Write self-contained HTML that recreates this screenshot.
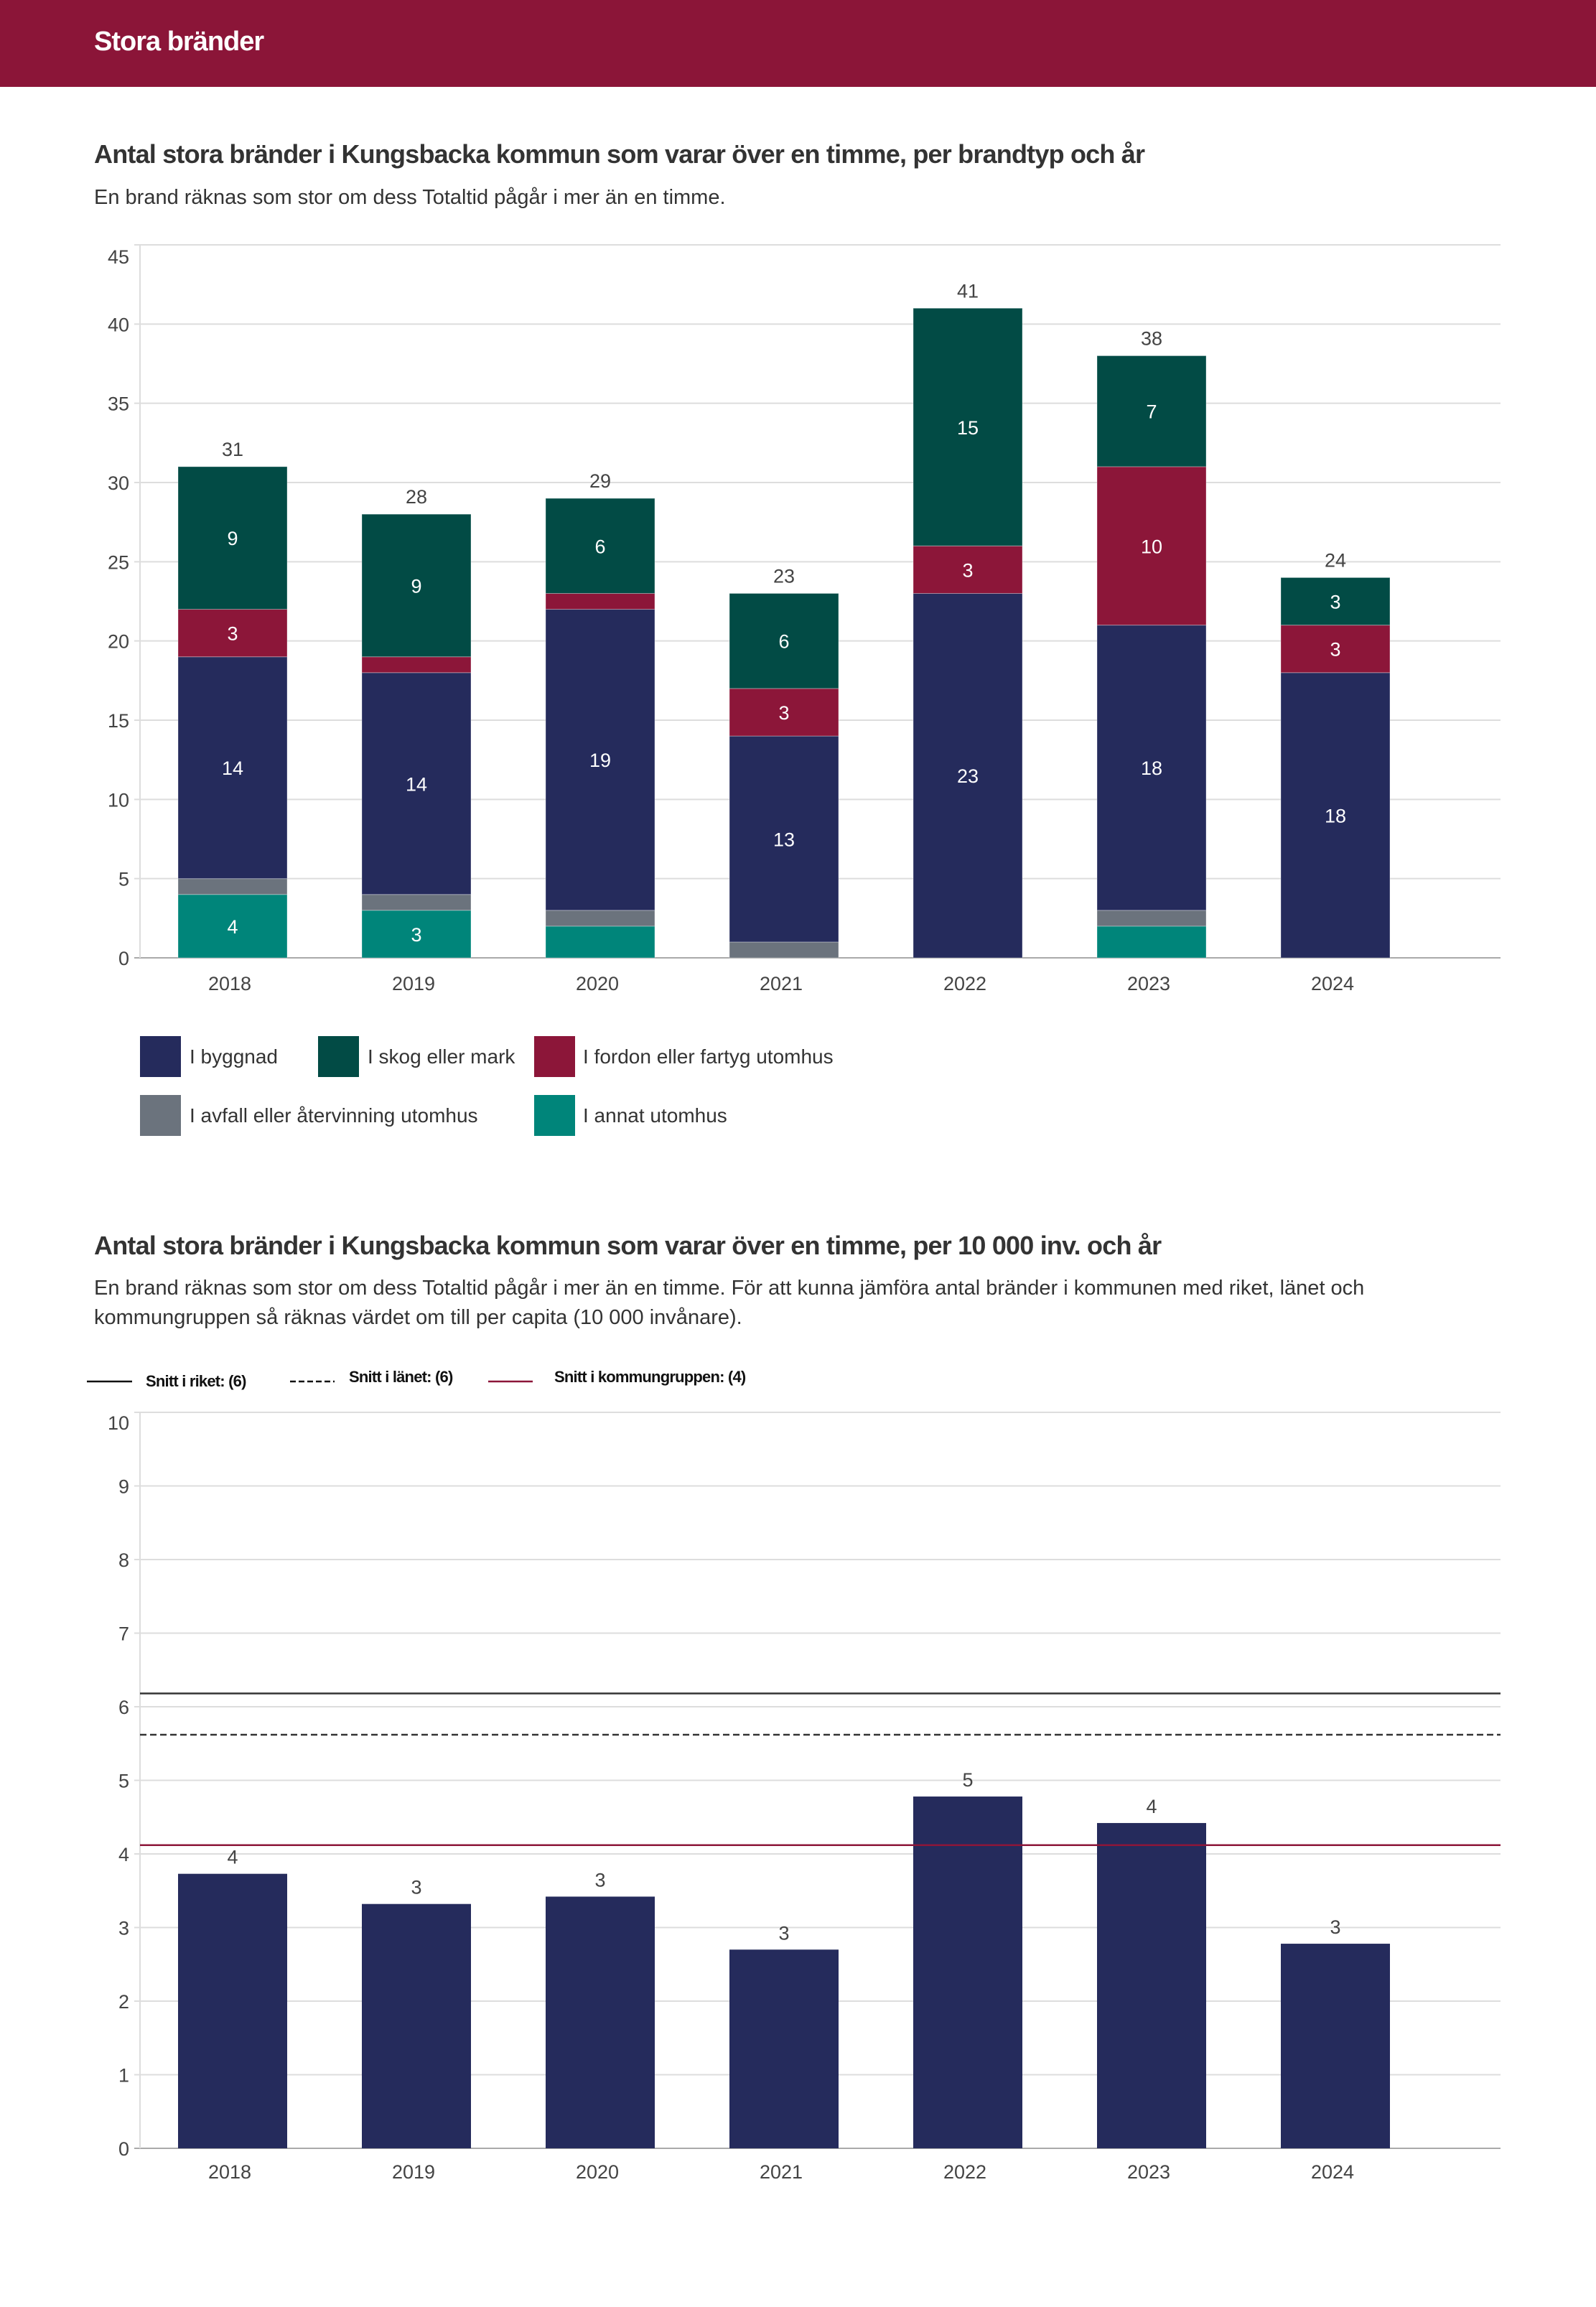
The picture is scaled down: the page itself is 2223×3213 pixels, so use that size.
<!DOCTYPE html>
<html><head><meta charset="utf-8"><style>
html,body{margin:0;padding:0;background:#fff;}
svg{display:block;font-family:"Liberation Sans",sans-serif;}
</style></head><body>
<svg id="svg" width="2223" height="3213" viewBox="0 0 2223 3213" xmlns="http://www.w3.org/2000/svg">
<rect x="0" y="0" width="2223" height="121" fill="#8b1538"/>
<text x="131" y="70" font-size="38" font-weight="bold" fill="#fff" letter-spacing="-1">Stora bränder</text>
<text x="131" y="227" font-size="36" font-weight="bold" fill="#333" letter-spacing="-0.8">Antal stora bränder i Kungsbacka kommun som varar över en timme, per brandtyp och år</text>
<text x="131" y="284" font-size="29" fill="#333">En brand räknas som stor om dess Totaltid pågår i mer än en timme.</text>
<g id="c1"></g>
<g font-size="28" fill="#333">
<rect x="195" y="1443" width="57" height="57" fill="#252b5c"/><text x="264" y="1481">I byggnad</text>
<rect x="443" y="1443" width="57" height="57" fill="#024b45"/><text x="512" y="1481">I skog eller mark</text>
<rect x="744" y="1443" width="57" height="57" fill="#8c1639"/><text x="812" y="1481">I fordon eller fartyg utomhus</text>
<rect x="195" y="1525" width="57" height="57" fill="#6b737d"/><text x="264" y="1563">I avfall eller återvinning utomhus</text>
<rect x="744" y="1525" width="57" height="57" fill="#00857a"/><text x="812" y="1563">I annat utomhus</text>
</g>
<text x="131" y="1747" font-size="36" font-weight="bold" fill="#333" letter-spacing="-0.8">Antal stora bränder i Kungsbacka kommun som varar över en timme, per 10 000 inv. och år</text>
<text x="131" y="1803" font-size="29" fill="#333">En brand räknas som stor om dess Totaltid pågår i mer än en timme. För att kunna jämföra antal bränder i kommunen med riket, länet och</text>
<text x="131" y="1844" font-size="29" fill="#333">kommungruppen så räknas värdet om till per capita (10 000 invånare).</text>
<g font-size="22" font-weight="bold" fill="#111">
<line x1="121" y1="1924" x2="184" y2="1924" stroke="#111" stroke-width="2.5"/><text x="203" y="1931" letter-spacing="-0.8">Snitt i riket: (6)</text>
<line x1="404" y1="1924" x2="466" y2="1924" stroke="#111" stroke-width="2.5" stroke-dasharray="8,4"/><text x="486" y="1925" letter-spacing="-0.8">Snitt i länet: (6)</text>
<line x1="680" y1="1924" x2="742" y2="1924" stroke="#8c1639" stroke-width="2.5"/><text x="772" y="1925" letter-spacing="-0.8">Snitt i kommungruppen: (4)</text>
</g>
<g id="c2"></g>
</svg>
<script>
const years = ["2018","2019","2020","2021","2022","2023","2024"];
const annat = [4,3,2,0,0,2,0];
const avfall = [1,1,1,1,0,1,0];
const byggnad = [14,14,19,13,23,18,18];
const fordon = [3,1,1,3,3,10,3];
const skog = [9,9,6,6,15,7,3];
const ticks1 = [0,5,10,15,20,25,30,35,40,45];
const perCapita = [3.73,3.32,3.42,2.70,4.78,4.42,2.78];
const perCapitaLabels = ["4","3","3","3","5","4","3"];
const ticks2 = [0,1,2,3,4,5,6,7,8,9,10];
const avgRiket = 6.18;
const avgLanet = 5.62;
const avgKommungrupp = 4.12;

const NS="http://www.w3.org/2000/svg";
function mk(parent,tag,attrs,text){const e=document.createElementNS(NS,tag);for(const k in attrs)e.setAttribute(k,attrs[k]);if(text!==undefined)e.textContent=text;parent.appendChild(e);return e;}
const L=195,R=2090,BW=152;
function xc(i){return 324+i*256;}

// chart 1
const g1=document.getElementById('c1');
const y1=v=>1334-(v/45)*993;
ticks1.forEach((t,k)=>{
  const ln=mk(g1,'line',{x1:L-8,x2:R,y1:y1(t),y2:y1(t),stroke:t===0?'#aaa':'#ddd','stroke-width':2});
  
  
  const off=(k===ticks1.length-1)?26:10;
  const tx=mk(g1,'text',{x:180,y:y1(t)+off,'text-anchor':'end','font-size':27,fill:'#444'},String(t));
  
  
});
const ax=mk(g1,'line',{x1:L,x2:L,y1:y1(45),y2:y1(0),stroke:'#ddd','stroke-width':2});


const series=[{n:'annat',d:annat,c:'#00857a'},{n:'avfall',d:avfall,c:'#6b737d'},{n:'byggnad',d:byggnad,c:'#252b5c'},{n:'fordon',d:fordon,c:'#8c1639'},{n:'skog',d:skog,c:'#024b45'}];
years.forEach((yr,i)=>{
  let base=0;
  series.forEach(s=>{
    const v=s.d[i]; if(v<=0)return;
    const r=mk(g1,'rect',{x:xc(i)-BW/2,y:y1(base+v),width:BW,height:y1(base)-y1(base+v),fill:s.c,stroke:'#ffffff55','stroke-width':1});
    
    
    if(v>=3){
      const t=mk(g1,'text',{x:xc(i),y:(y1(base)+y1(base+v))/2+10,'text-anchor':'middle','font-size':27,fill:'#fff'},String(v));
      
      
    }
    base+=v;
  });
  const tt=mk(g1,'text',{x:xc(i),y:y1(base)-15,'text-anchor':'middle','font-size':27,fill:'#444'},String(base));
  
  
  const xl=mk(g1,'text',{x:xc(i)-4,y:1379,'text-anchor':'middle','font-size':27,fill:'#444'},yr);
  
  
});

// chart 2
const g2=document.getElementById('c2');
const y2=v=>2992-(v/10)*1025;
ticks2.forEach((t,k)=>{
  const ln=mk(g2,'line',{x1:L-8,x2:R,y1:y2(t),y2:y2(t),stroke:t===0?'#aaa':'#ddd','stroke-width':2});
  
  
  const off=(k===ticks2.length-1)?24:10;
  const tx=mk(g2,'text',{x:180,y:y2(t)+off,'text-anchor':'end','font-size':27,fill:'#444'},String(t));
  
  
});
const ax2=mk(g2,'line',{x1:L,x2:L,y1:y2(10),y2:y2(0),stroke:'#ddd','stroke-width':2});


years.forEach((yr,i)=>{
  const v=perCapita[i];
  const r=mk(g2,'rect',{x:xc(i)-BW/2,y:y2(v),width:BW,height:y2(0)-y2(v),fill:'#252b5c'});
  
  
  const t=mk(g2,'text',{x:xc(i),y:y2(v)-14,'text-anchor':'middle','font-size':27,fill:'#444'},perCapitaLabels[i]);
  
  
  const xl=mk(g2,'text',{x:xc(i)-4,y:3034,'text-anchor':'middle','font-size':27,fill:'#444'},yr);
  
  
});
const lr=mk(g2,'line',{x1:L,x2:R,y1:y2(avgRiket),y2:y2(avgRiket),stroke:'#333','stroke-width':2.5});


const ll=mk(g2,'line',{x1:L,x2:R,y1:y2(avgLanet),y2:y2(avgLanet),stroke:'#333','stroke-width':2.5,'stroke-dasharray':'9,5'});


const lk=mk(g2,'line',{x1:L,x2:R,y1:y2(avgKommungrupp),y2:y2(avgKommungrupp),stroke:'#8c1639','stroke-width':2.5});


</script>
</body></html>
